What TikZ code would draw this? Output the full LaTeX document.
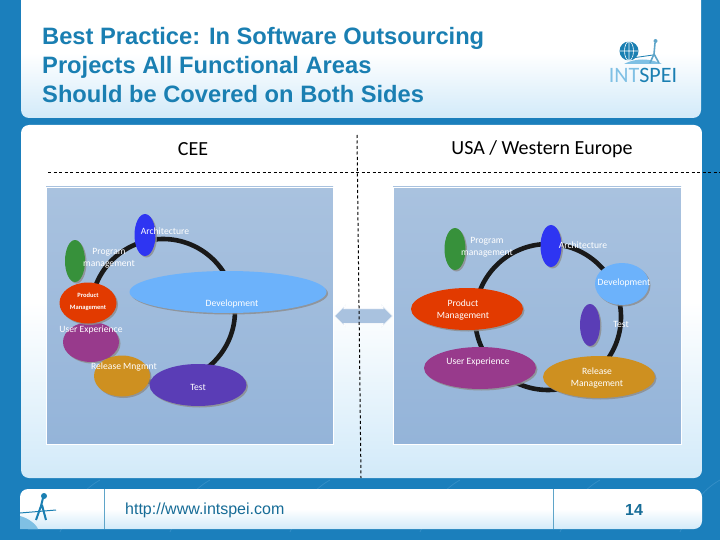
\documentclass[tikz,border=0pt]{standalone}
\usepackage{fontspec}
\setmainfont{Liberation Sans}
\newfontfamily\labelfont{Carlito}
\usetikzlibrary{shapes.geometric,shapes.arrows,shadows}
\definecolor{slideblue}{HTML}{1B7FBC}
\definecolor{streak}{HTML}{4F9FD2}
\definecolor{titleblue}{HTML}{1A7FB2}
\definecolor{panelend}{HTML}{D2EAF9}
\definecolor{boxtop}{HTML}{A9C2DF}
\definecolor{boxend}{HTML}{94B4D9}
\definecolor{bubblegreen}{HTML}{37913B}
\definecolor{bubbleblue}{HTML}{2E35F2}
\definecolor{bubblered}{HTML}{E23A00}
\definecolor{bubblesky}{HTML}{6CB2FB}
\definecolor{bubblepurple}{HTML}{983A8C}
\definecolor{bubbleochre}{HTML}{CE9020}
\definecolor{bubbleviolet}{HTML}{5A3DB6}
\definecolor{logolight}{HTML}{7FC0E4}
\tikzset{
  panel/.style={rounded corners=8pt,top color=white,bottom color=panelend,middle color=white},
  diagbox/.style={top color=boxtop,bottom color=boxend,draw=white,line width=0.8pt},
  ring/.style={draw=black!90,line width=4.6pt},
  bubble/.style={ellipse,inner sep=0pt,drop shadow={shadow xshift=1.5pt,shadow yshift=-1.5pt,fill=black!45,opacity=0.8}},
  bubbletext/.style={text=white,font=\labelfont\fontsize{9.6}{12}\selectfont,align=center,inner sep=0pt},
  guide/.style={black,line width=1pt,dash pattern=on 3pt off 2.5pt},
}
\begin{document}
\begin{tikzpicture}[x=1pt,y=-1pt]
  \useasboundingbox (0,0) rectangle (720,540);
  % Slide background
  \fill[slideblue] (0,0) rectangle (720,540);
  \foreach \x in {60,170,290,420,560,680} {
    \draw[streak,line width=0.7pt,opacity=0.5] (\x,532) .. controls (\x+12,505) and (\x+22,490) .. (\x+40,480);
  };
  % Panels
  \path[panel] (21,-12) rectangle (701,118);
  \path[panel] (21,125) rectangle (702,478);
  \path[panel] (20,489) rectangle (702,529);
  \draw[titleblue!70,line width=0.8pt] (104,489) -- (104,529);
  \draw[titleblue!70,line width=0.8pt] (553,489) -- (553,529);

  % Title and column heads
  \node[anchor=north west,align=left,inner sep=0pt,text=titleblue,font=\bfseries\fontsize{23.7}{28.7}\selectfont] (title) at (42,27.5)
    {Best Practice: In Software Outsourcing\\Projects All Functional Areas\\Should be Covered on Both Sides};
  \node[font=\labelfont\fontsize{20}{22}\selectfont] (cee) at (193,149) {CEE};
  \node[font=\labelfont\fontsize{20}{22}\selectfont] (usa) at (542,149) {USA / Western Europe};

  % Logo
  \fill[titleblue] (629,51) circle (9.5);
  \draw[white,line width=0.6pt] (629,41.5) -- (629,60.5) (620,51) -- (638,51) (629,51) ellipse (4.5 and 9.5);
  \fill[logolight] (624,64) .. controls (635,58) and (650,58) .. (662,64) -- cycle;
  \draw[titleblue,line width=0.8pt] (632,58) -- (653,55);
  \draw[titleblue!70,line width=1.6pt] (655,43) -- (654,54) (654,54) -- (650,63) (654,54) -- (659,63);
  \fill[titleblue!70] (655.5,41) circle (2);
  \node[font=\labelfont\fontsize{22}{24}\selectfont,inner sep=0pt] (logotext) at (643,75)
    {\textcolor{logolight}{INT}\textcolor{titleblue}{SPEI}};

  % Left and right boxes
  \path[diagbox] (46,187) rectangle (333,444);
  \path[diagbox] (393,187) rectangle (681,444);
  \draw[ring] (163,311) circle (72);
  \draw[ring] (548,317) circle (73);

  % Bubbles: x/y/width/height/colour/name
  \foreach \x/\y/\w/\h/\col/\nm in {
      145/235/21/42/bubbleblue/lArch, 75/261/20/42/bubblegreen/lProg,
      91/342/56/40/bubblepurple/lUx, 88/303/57/41/bubblered/lProd,
      122/376/56/41/bubbleochre/lRel, 198/385/97/42/bubbleviolet/lTest,
      228/292/197/42/bubblesky/lDev,
      455/249/21/42/bubblegreen/rProg, 551/246/21/42/bubbleblue/rArch,
      622/284/54/42/bubblesky/rDev, 590/325/20/42/bubbleviolet/rTest,
      467/309/112/42/bubblered/rProd, 480/368/112/42/bubblepurple/rUx,
      599/377/112/42/bubbleochre/rRel} {
    \node[bubble,fill=\col,minimum width=\w pt,minimum height=\h pt] (\nm) at (\x,\y) {};
  };

  % Labels
  \foreach \x/\y/\lab/\nm in {
      165/231/{Architecture}/tlArch, 109/258/{Program\\management}/tlProg,
      232/304/{Development}/tlDev, 91/330/{User Experience}/tlUx,
      124/367/{Release Mngmnt}/tlRel, 198/387/{Test}/tlTest,
      487/247/{Program\\management}/trProg, 583/245/{Architecture}/trArch,
      624/283/{Development}/trDev, 463/310/{Product\\Management}/trProd,
      621/324/{Test}/trTest, 478/362/{User Experience}/trUx,
      597/378/{Release\\Management}/trRel} {
    \node[bubbletext] (\nm) at (\x,\y) {\lab};
  };
  \node[bubbletext,font=\labelfont\bfseries\fontsize{6.5}{11.5}\selectfont] (tlProd) at (88,302) {Product\\Management};

  % Arrow between the sides
  \node[double arrow,fill=boxtop,draw=white,line width=0.6pt,minimum height=58pt,inner xsep=0pt,inner ysep=7pt,
    double arrow head extend=4pt,double arrow head indent=2pt] (swap) at (363.5,316) {};

  % Dashed guides
  \draw[guide] (48,173) -- (720,173);
  \draw[guide] (357,135) -- (361,478);

  % Footer
  \draw[titleblue,line width=2pt] (43,498) -- (41,506) -- (36,520) (42,505) -- (46,520);
  \fill[titleblue] (44,496) circle (3);
  \draw[titleblue,line width=1pt] (20,513) -- (56,510);
  \fill[logolight] (20,529) -- (20,516) .. controls (28,518) and (36,524) .. (38,529) -- cycle;
  \node[anchor=west,inner sep=0pt,text=titleblue!85!black,font=\fontsize{16}{18}\selectfont] (url) at (125,510) {http://www.intspei.com};
  \node[inner sep=0pt,text=titleblue!85!black,font=\bfseries\fontsize{16}{18}\selectfont] (pageno) at (634,510) {14};
\end{tikzpicture}
\end{document}
